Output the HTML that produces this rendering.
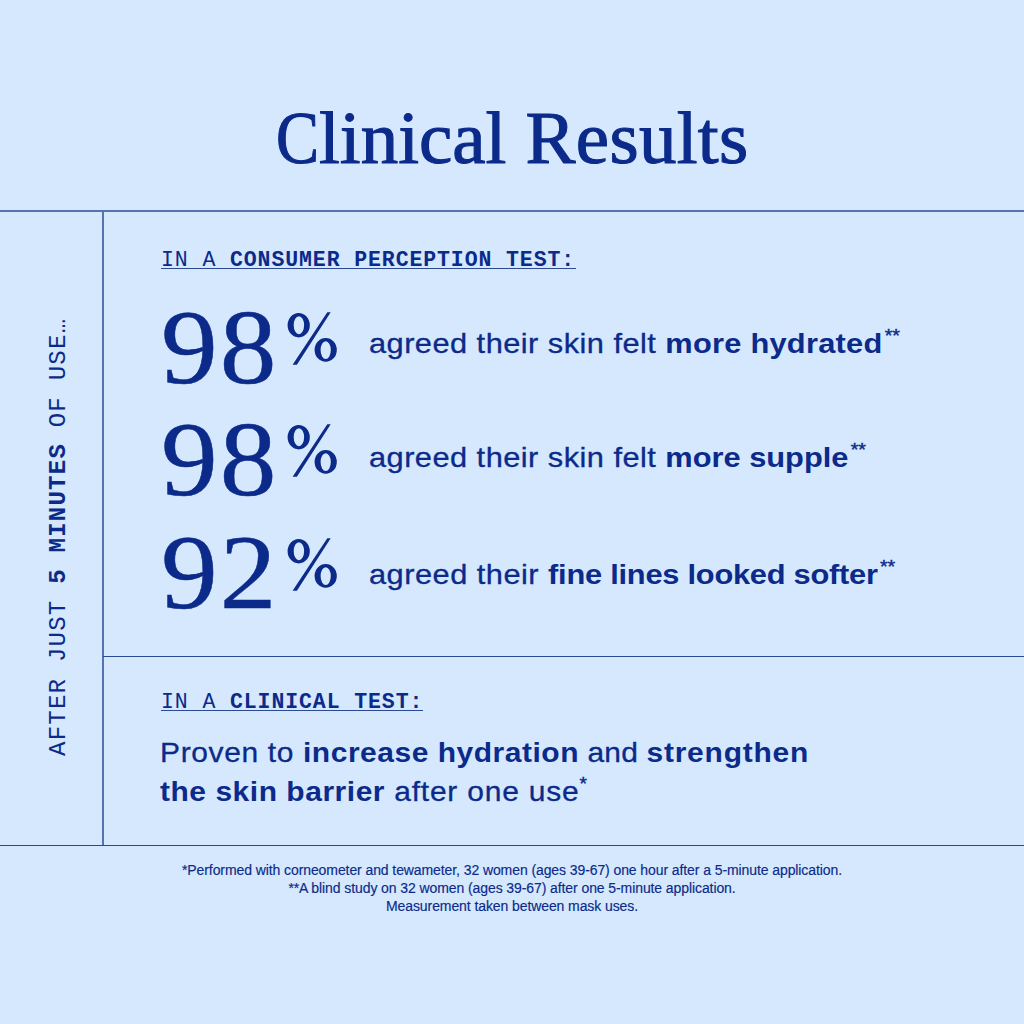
<!DOCTYPE html>
<html>
<head>
<meta charset="utf-8">
<style>
html,body{margin:0;padding:0;}
body{width:1024px;height:1024px;background:#D5E8FD;position:relative;overflow:hidden;color:#0B2A8A;}
.a{position:absolute;white-space:pre;line-height:1;}
.serif{font-family:"Liberation Serif",serif;}
.sans{font-family:"Liberation Sans",sans-serif;}
.mono{font-family:"Liberation Mono",monospace;}
b{font-weight:bold;}
.line{position:absolute;background:#5673AF;}
.thin{background:#2B4A94;}
.sup{position:relative;line-height:0;font-size:64%;-webkit-text-stroke:0.4px #0B2A8A;}
.st{transform-origin:0 0;}
.r{letter-spacing:0.6px;-webkit-text-stroke:0.3px #0B2A8A;}
.bd{font-weight:bold;letter-spacing:0.5px;}
.sen{font-size:28px;transform:scaleX(1.1);}
.num{font-size:105px;letter-spacing:2px;transform:scaleX(1.08);-webkit-text-stroke:0.5px #0B2A8A;}
.pct{font-size:77px;transform:scaleX(0.82);-webkit-text-stroke:1.0px #0B2A8A;}
.hd{font-size:21.5px;letter-spacing:0.9px;}
.hd b{-webkit-text-stroke:0px #0B2A8A;}
</style>
</head>
<body>
<div class="a serif" style="left:276px;top:100px;font-size:75px;-webkit-text-stroke:1.1px #0B2A8A;transform-origin:0 0;transform:scaleX(1.0);"><span id="tC" style="display:inline-block;transform-origin:0 0;transform:scaleX(0.86);margin-right:-7px">C</span><span id="t1" style="letter-spacing:0.0px">linical</span><span style="letter-spacing:0.3px"> Results</span></div>

<div class="line" style="left:0;top:210px;width:1024px;height:2px;"></div>
<div class="line" style="left:102px;top:211px;width:2px;height:634px;"></div>
<div class="line thin" style="left:103px;top:656px;width:921px;height:1px;"></div>
<div class="line thin" style="left:0;top:845px;width:1024px;height:1px;"></div>

<div class="a mono hd" style="left:161px;top:249.8px;">IN A <b>CONSUMER PERCEPTION TEST:</b></div>
<div class="line thin" style="left:161px;top:268px;width:415px;height:1px;"></div>

<div class="a serif st num" style="left:161px;top:295px;">98</div>
<svg class="a" style="left:280px;top:305px" width="65" height="65" viewBox="0 0 65 65"><path fill="#0B2A8A" fill-rule="evenodd" d="M7.60,20.15a11.10,12.25 0 1,0 22.20,0a11.10,12.25 0 1,0 -22.20,0ZM13.70,20.20a5.20,9.05 0 1,0 10.40,0a5.20,9.05 0 1,0 -10.40,0ZM34.60,44.90a11.10,11.90 0 1,0 22.20,0a11.10,11.90 0 1,0 -22.20,0ZM40.60,45.10a5.10,8.90 0 1,0 10.20,0a5.10,8.90 0 1,0 -10.20,0Z"/><path fill="#0B2A8A" d="M47.30,7.30L50.70,7.30L16.90,59.70L12.60,59.70Z"/></svg>
<div class="a sans st sen" id="s1" style="left:368.5px;top:329.85px;"><span class="r" id="s1a" style="letter-spacing:0.41px">agreed their skin felt </span><span class="bd" id="s1b" style="letter-spacing:0.225px">more hydrated</span><span class="sup" style="top:-11px;margin-left:2px" id="s1c">**</span></div>

<div class="a serif st num" style="left:161px;top:407px;">98</div>
<svg class="a" style="left:280px;top:417px" width="65" height="65" viewBox="0 0 65 65"><path fill="#0B2A8A" fill-rule="evenodd" d="M7.60,20.15a11.10,12.25 0 1,0 22.20,0a11.10,12.25 0 1,0 -22.20,0ZM13.70,20.20a5.20,9.05 0 1,0 10.40,0a5.20,9.05 0 1,0 -10.40,0ZM34.60,44.90a11.10,11.90 0 1,0 22.20,0a11.10,11.90 0 1,0 -22.20,0ZM40.60,45.10a5.10,8.90 0 1,0 10.20,0a5.10,8.90 0 1,0 -10.20,0Z"/><path fill="#0B2A8A" d="M47.30,7.30L50.70,7.30L16.90,59.70L12.60,59.70Z"/></svg>
<div class="a sans st sen" id="s2" style="left:368.5px;top:443.85px;"><span class="r" id="s2a" style="letter-spacing:0.41px">agreed their skin felt </span><span class="bd" id="s2b" style="letter-spacing:0.0px">more supple</span><span class="sup" style="top:-11px;margin-left:2px" id="s2c">**</span></div>

<div class="a serif st num" style="left:161px;top:519.5px;">92</div>
<svg class="a" style="left:280px;top:530.5px" width="65" height="65" viewBox="0 0 65 65"><path fill="#0B2A8A" fill-rule="evenodd" d="M7.60,20.15a11.10,12.25 0 1,0 22.20,0a11.10,12.25 0 1,0 -22.20,0ZM13.70,20.20a5.20,9.05 0 1,0 10.40,0a5.20,9.05 0 1,0 -10.40,0ZM34.60,44.90a11.10,11.90 0 1,0 22.20,0a11.10,11.90 0 1,0 -22.20,0ZM40.60,45.10a5.10,8.90 0 1,0 10.20,0a5.10,8.90 0 1,0 -10.20,0Z"/><path fill="#0B2A8A" d="M47.30,7.30L50.70,7.30L16.90,59.70L12.60,59.70Z"/></svg>
<div class="a sans st sen" id="s3" style="left:368.5px;top:561.35px;"><span class="r" id="s3a" style="letter-spacing:0.43px">agreed their </span><span class="bd" id="s3b" style="letter-spacing:-0.22px">fine lines looked softer</span><span class="sup" style="top:-11px;margin-left:2px" id="s3c">**</span></div>

<div class="a mono hd" style="left:161px;top:691.8px;">IN A <b>CLINICAL TEST:</b></div>
<div class="line thin" style="left:161px;top:710px;width:262px;height:1px;"></div>

<div class="a sans st sen" id="pr1" style="left:160px;top:739.35px;transform:scaleX(1.07);"><span class="r" id="pr1a" style="letter-spacing:0.6px">Proven to </span><span class="bd" id="pr1b" style="letter-spacing:0.5px">increase hydration</span><span class="r" id="pr1c" style="letter-spacing:0.15px"> and </span><span class="bd" id="pr1d" style="letter-spacing:0.73px">strengthen</span></div>
<div class="a sans st sen" id="pr2" style="left:160px;top:778.1px;transform:scaleX(1.07);"><span class="bd" id="pr2a" style="letter-spacing:0.5px">the skin barrier</span><span class="r" id="pr2b" style="letter-spacing:0.75px"> after one use</span><span class="sup" style="top:-11px;margin-left:0px" id="pr2c">*</span></div>

<div class="a sans" id="fn" style="left:0;top:860.5px;width:1024px;text-align:center;font-size:14px;line-height:18px;letter-spacing:-0.09px;-webkit-text-stroke:0.15px #0B2A8A;">*Performed with corneometer and tewameter, 32 women (ages 39-67) one hour after a 5-minute application.
**A blind study on 32 women (ages 39-67) after one 5-minute application.
Measurement taken between mask uses.</div>

<div class="a mono" id="v" style="left:47px;top:755.5px;font-size:24px;letter-spacing:1.25px;transform-origin:0 0;transform:rotate(-90deg);">AFTER JUST <b>5 MINUTES</b> OF USE…</div>
</body>
</html>
